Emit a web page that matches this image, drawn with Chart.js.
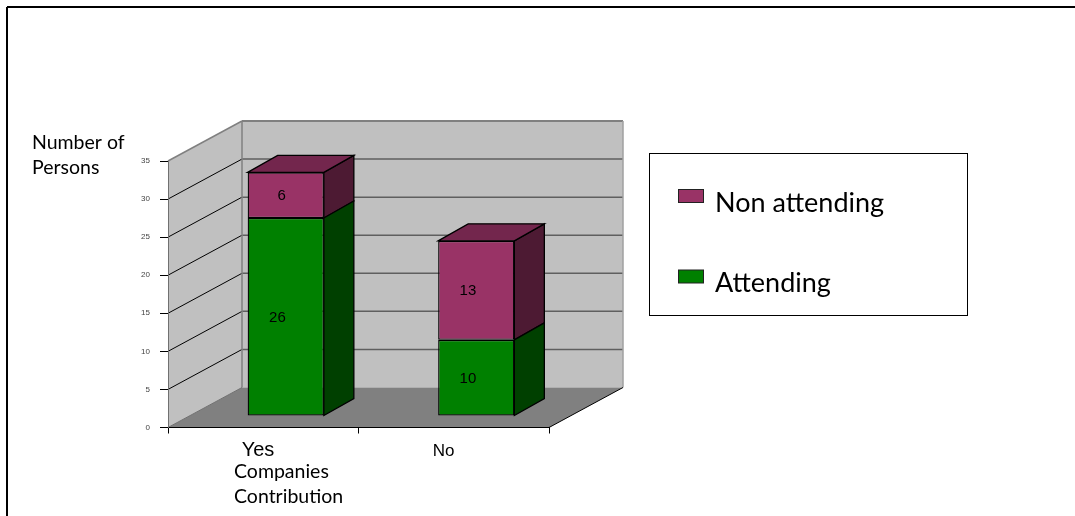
<!DOCTYPE html>
<html>
<head>
<meta charset="utf-8">
<style>
  html, body { margin: 0; padding: 0; background: #fff; }
  canvas { display: block; }
</style>
<script src="https://cdn.jsdelivr.net/npm/chart.js@4/dist/chart.umd.js"></script>
</head>
<body>
<canvas id="chart" width="1075" height="516"></canvas>
<script>
var categories = ['Yes', 'No'];
var attending = [26, 10];
var nonAttending = [6, 13];
var yTickStep = 5;
var yMax = 35;

var wallDepth = { x: 74, y: -40 };
var barDepth = { x: 30, y: -17 };
var barShift = { x: 22.5, y: -11.5 };
var shade = {
  '#008000': { side: '#004000', top: '#006000' },
  '#993366': { side: '#4d1a33', top: '#73264d' }
};
var sansUi = '"Liberation Sans", Arial, sans-serif';
var sansText = 'Lato, "Open Sans", sans-serif';

var poly = function(ctx, pts, fill, stroke, width) {
  ctx.beginPath();
  ctx.moveTo(pts[0][0], pts[0][1]);
  for (var i = 1; i < pts.length; i++) {
    ctx.lineTo(pts[i][0], pts[i][1]);
  }
  ctx.closePath();
  if (fill) {
    ctx.fillStyle = fill;
    ctx.fill();
  }
  if (stroke) {
    ctx.strokeStyle = stroke;
    ctx.lineWidth = width || 1;
    ctx.stroke();
  }
};

var line = function(ctx, x1, y1, x2, y2, color, width) {
  ctx.beginPath();
  ctx.moveTo(x1, y1);
  ctx.lineTo(x2, y2);
  ctx.strokeStyle = color;
  ctx.lineWidth = width;
  ctx.stroke();
};

var text = function(ctx, str, x, y, font, align) {
  ctx.font = font;
  ctx.fillStyle = '#000';
  ctx.textAlign = align || 'left';
  ctx.textBaseline = 'alphabetic';
  ctx.fillText(str, x, y);
};

// the walls, the floor and the outer frame go under the axes
var walls = {
  id: 'walls',
  beforeDraw: function(chart) {
    var ctx = chart.ctx, a = chart.chartArea, y = chart.scales.y;
    var dx = wallDepth.x, dy = wallDepth.y;
    ctx.save();
    line(ctx, 7, 7, 1075, 7, '#000', 2);
    line(ctx, 7, 7, 7, 516, '#000', 2);

    poly(ctx, [[a.left + dx, a.top + dy], [a.right + dx, a.top + dy], [a.right + dx, a.bottom + dy], [a.left + dx, a.bottom + dy]], '#c0c0c0');
    poly(ctx, [[a.left, a.top], [a.left + dx, a.top + dy], [a.left + dx, a.bottom + dy], [a.left, a.bottom]], '#c0c0c0');
    poly(ctx, [[a.left, a.bottom], [a.right, a.bottom], [a.right + dx, a.bottom + dy], [a.left + dx, a.bottom + dy]], '#808080');

    for (var v = yTickStep; v < yMax; v += yTickStep) {
      var py = y.getPixelForValue(v);
      line(ctx, a.left, py, a.left + dx, py + dy, '#000', 1);
      line(ctx, a.left + dx, py + dy, a.right + dx, py + dy, '#5f5f5f', 1.5);
    }
    line(ctx, a.left, a.top, a.left + dx, a.top + dy, '#808080', 1.5);
    line(ctx, a.left + dx, a.top + dy, a.right + dx, a.top + dy, '#808080', 2);
    line(ctx, a.left + dx, a.top + dy, a.left + dx, a.bottom + dy, '#808080', 1.5);
    line(ctx, a.right + dx, a.top + dy, a.right + dx, a.bottom + dy, '#a0a0a0', 1.5);
    line(ctx, a.right, a.bottom, a.right + dx, a.bottom + dy, '#000', 1);
    line(ctx, a.left, a.bottom, a.left + dx, a.bottom + dy, '#707070', 1);
    ctx.restore();

    // the labels sit a little off the category centres in the original
    var items = chart.scales.x.getLabelItems();
    if (!chart.$shifted) {
      items[0].options.translation[0] = 258;
      items[0].options.translation[1] -= 3;
      items[1].options.translation[0] = 443.5;
      chart.$shifted = true;
    }
  }
};

// every bar is pushed back from the front plane and gets a side and a top
var bars3d = {
  id: 'bars3d',
  beforeDatasetDraw: function(chart, args) {
    var ctx = chart.ctx, dx = barDepth.x, dy = barDepth.y;
    var color = chart.data.datasets[args.index].backgroundColor;
    ctx.save();
    ctx.translate(barShift.x, barShift.y);
    args.meta.data.forEach(function(bar) {
      var l = bar.x - bar.width / 2, r = bar.x + bar.width / 2;
      poly(ctx, [[r, bar.base], [r + dx, bar.base + dy], [r + dx, bar.y + dy], [r, bar.y]], shade[color].side, '#000', 1.3);
      if (args.index === chart.data.datasets.length - 1) {
        poly(ctx, [[l, bar.y], [l + dx, bar.y + dy], [r + dx, bar.y + dy], [r, bar.y]], shade[color].top, '#000', 1.3);
      }
    });
  },
  afterDatasetDraw: function(chart, args) {
    var ctx = chart.ctx;
    var values = chart.data.datasets[args.index].data;
    args.meta.data.forEach(function(bar, i) {
      text(ctx, String(values[i]), bar.x, (bar.y + bar.base) / 2 + 5, '15px ' + sansUi, 'right');
    });
    ctx.restore();
  }
};

var notes = {
  id: 'notes',
  afterDraw: function(chart) {
    var ctx = chart.ctx;
    ctx.save();
    text(ctx, 'Number of', 32, 149, '19.5px ' + sansText);
    text(ctx, 'Persons', 32, 174, '19.5px ' + sansText);
    text(ctx, 'Companies', 234, 478, '19.5px ' + sansText);
    text(ctx, 'Contribution', 234, 503, '19.5px ' + sansText);

    ctx.strokeStyle = '#000';
    ctx.lineWidth = 1;
    ctx.strokeRect(649.5, 153.5, 318, 162);
    var sets = chart.data.datasets;
    var rows = [[sets[1], 189, 212], [sets[0], 269.5, 292]];
    rows.forEach(function(row) {
      ctx.fillStyle = row[0].backgroundColor;
      ctx.fillRect(678.5, row[1] + 0.5, 25, 13);
      ctx.strokeStyle = '#222';
      ctx.strokeRect(678.5, row[1] + 0.5, 25, 13);
      text(ctx, row[0].label, 715, row[2], '27px ' + sansText);
    });
    ctx.restore();
  }
};

new Chart(document.getElementById('chart').getContext('2d'), {
  type: 'bar',
  data: {
    labels: categories,
    datasets: [
      { label: 'Attending', data: attending, backgroundColor: '#008000', borderColor: '#000', borderWidth: 1.3, borderSkipped: false },
      { label: 'Non attending', data: nonAttending, backgroundColor: '#993366', borderColor: '#000', borderWidth: 1.3, borderSkipped: false }
    ]
  },
  options: {
    responsive: false,
    animation: false,
    events: [],
    barPercentage: 0.4,
    categoryPercentage: 1,
    layout: { padding: { left: 0, top: 161, right: 526, bottom: 0 } },
    plugins: { legend: { display: false }, title: { display: false }, tooltip: { enabled: false } },
    scales: {
      x: {
        stacked: true,
        afterFit: function(scale) { scale.height = 88.5; },
        border: { color: '#000', width: 1 },
        grid: { drawOnChartArea: false, tickLength: 6, tickColor: '#000' },
        ticks: {
          color: '#000',
          padding: 8,
          maxRotation: 0,
          font: function(c) {
            return { family: sansUi, size: c.index === 0 ? 20 : 17 };
          }
        }
      },
      y: {
        stacked: true,
        min: 0,
        max: yMax,
        afterFit: function(scale) { scale.width = 168; },
        border: { color: '#707070', width: 1 },
        grid: { drawOnChartArea: false, tickLength: 8, tickColor: '#000' },
        ticks: {
          stepSize: yTickStep,
          color: '#444',
          padding: 10,
          font: { family: sansUi, size: 8 }
        }
      }
    }
  },
  plugins: [walls, bars3d, notes]
});
</script>
</body>
</html>
